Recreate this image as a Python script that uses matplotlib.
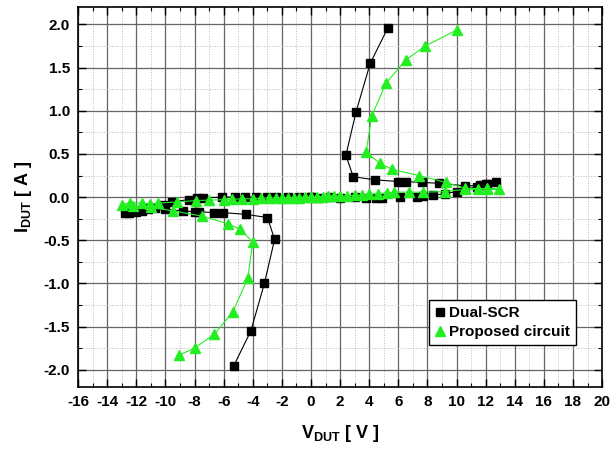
import matplotlib.pyplot as plt
from matplotlib.ticker import MultipleLocator

plt.rcParams["font.family"] = ["Liberation Sans", "DejaVu Sans"]
plt.rcParams["font.weight"] = "bold"
plt.rcParams["axes.unicode_minus"] = False
plt.rcParams["mathtext.fontset"] = "custom"
plt.rcParams["mathtext.rm"] = "Liberation Sans:bold"
plt.rcParams["mathtext.bf"] = "Liberation Sans:bold"

# Dual-SCR, positive polarity (V, A)
scr_pos_v = [0.0, 0.5, 1.3, 2.0, 3.0, 3.8, 4.5, 4.9, 6.1, 7.3, 7.7, 8.4, 9.2, 10.0, 10.6, 11.4,
             12.0, 12.7, 12.1, 11.6, 10.6, 8.8, 7.6, 6.5, 6.0, 4.4, 2.9, 2.4, 3.1, 4.07, 5.28]
scr_pos_i = [0.0, -0.005, 0.0, -0.01, 0.0, -0.005, -0.01, -0.01, 0.0, 0.0, 0.01, 0.02, 0.04, 0.064, 0.09, 0.12,
             0.15, 0.17, 0.15, 0.135, 0.13, 0.16, 0.17, 0.18, 0.18, 0.20, 0.236, 0.485, 0.99, 1.55, 1.96]
# Dual-SCR, negative polarity
scr_neg_v = [0.0, -0.8, -1.6, -2.4, -3.0, -3.8, -4.5, -5.2, -6.1, -7.4, -7.84, -8.4, -9.56, -10.14, -11.17,
             -11.6, -12.0, -12.54, -12.8, -12.5, -12.0, -11.6, -11.17, -10.7, -10.0, -8.8, -8.0, -7.66,
             -6.63, -6.06, -4.47, -2.99, -2.5, -3.2, -4.13, -5.32]
scr_neg_i = [0.0, 0.005, 0.0, 0.005, 0.0, 0.0, 0.0, 0.0, 0.0, -0.01, -0.01, -0.028, -0.057, -0.088, -0.13,
             -0.15, -0.16, -0.17, -0.18, -0.18, -0.17, -0.16, -0.14, -0.13, -0.14, -0.16, -0.17, -0.17,
             -0.18, -0.18, -0.20, -0.237, -0.49, -1.0, -1.55, -1.96]

# Proposed circuit, positive polarity
new_pos_v = [0.0, 0.4, 0.8, 1.2, 1.6, 2.0, 2.5, 3.0, 3.5, 4.0, 4.6, 5.2, 5.67, 6.7, 7.73, 9.2, 10.6, 11.5,
             12.1, 12.9, 12.07, 10.6, 9.3, 7.39, 5.6, 4.75, 3.79, 4.17, 5.16, 6.52, 7.85, 10.05]
new_pos_i = [0.0, 0.003, 0.005, 0.008, 0.01, 0.012, 0.015, 0.02, 0.025, 0.03, 0.04, 0.05, 0.057, 0.057, 0.057,
             0.064, 0.09, 0.09, 0.095, 0.09, 0.10, 0.10, 0.17, 0.25, 0.32, 0.39, 0.52, 0.94, 1.32, 1.59, 1.75, 1.94]
# Proposed circuit, negative polarity
new_neg_v = [0.0, -0.4, -0.8, -1.2, -1.6, -2.0, -2.4, -2.9, -3.4, -4.0, -4.75, -5.4, -6.0, -7.0, -7.9, -9.2,
             -10.5, -11.06, -11.6, -12.43, -13.0, -12.2, -11.0, -9.45, -7.5, -5.7, -4.9, -4.0, -4.34,
             -5.37, -6.65, -8.0, -9.04]
new_neg_i = [0.0, 0.0, -0.005, -0.005, -0.01, -0.01, -0.01, -0.01, -0.01, -0.02, -0.02, -0.025, -0.03, -0.035,
             -0.04, -0.057, -0.07, -0.077, -0.07, -0.065, -0.088, -0.10, -0.12, -0.16, -0.22, -0.31, -0.37,
             -0.52, -0.94, -1.33, -1.59, -1.75, -1.83]

GREEN = "#22ee22"

fig = plt.figure(figsize=(6.15, 4.51), dpi=100)
ax = fig.add_axes([0.127, 0.142, 0.852, 0.842])

ax.plot(scr_neg_v, scr_neg_i, "s-", color="black", lw=0.8, ms=5.5, zorder=3)
ax.plot(new_neg_v, new_neg_i, "^-", color=GREEN, lw=0.8, ms=6.5, zorder=4)
ax.plot(scr_pos_v, scr_pos_i, "s-", color="black", lw=0.8, ms=5.5, zorder=3, label="Dual-SCR")
ax.plot(new_pos_v, new_pos_i, "^-", color=GREEN, lw=0.8, ms=6.5, zorder=4, label="Proposed circuit")

ax.set_xlim(-16, 20)
ax.set_ylim(-2.2, 2.2)
ax.xaxis.set_major_locator(MultipleLocator(2))
ax.xaxis.set_minor_locator(MultipleLocator(1))
ax.yaxis.set_major_locator(MultipleLocator(0.5))
ax.yaxis.set_minor_locator(MultipleLocator(0.25))
ax.yaxis.set_major_formatter(lambda v, p: f"{v:.1f}")

ax.grid(which="major", color="#666666", lw=0.9, ls="-")
ax.grid(which="minor", color="#bbbbbb", lw=0.7, ls=":")
ax.set_axisbelow(True)

ax.tick_params(which="both", direction="in", top=True, right=True, labelsize=11)
ax.tick_params(which="major", length=6, width=1, pad=6)
ax.tick_params(which="minor", length=3, width=0.8)
for sp in ax.spines.values():
    sp.set_linewidth(1.2)
for lab in ax.get_xticklabels() + ax.get_yticklabels():
    lab.set_fontweight("bold")

ax.set_xlabel(r"$\mathbf{V_{DUT}}$ [ V ]", fontsize=13, fontweight="bold", labelpad=10)
ax.set_ylabel(r"$\mathbf{I_{DUT}}$ [ A ]", fontsize=13, fontweight="bold", labelpad=7)

leg = ax.legend(loc="lower right", bbox_to_anchor=(0.965, 0.09), fancybox=False, framealpha=1,
                edgecolor="black", handlelength=0.6, handletextpad=0.3, borderpad=0.4,
                labelspacing=0.3, prop={"weight": "bold", "size": 11})
leg.get_frame().set_linewidth(1.0)
for h in leg.legend_handles:
    h.set_linestyle("")

fig.savefig("out.png", dpi=100)
